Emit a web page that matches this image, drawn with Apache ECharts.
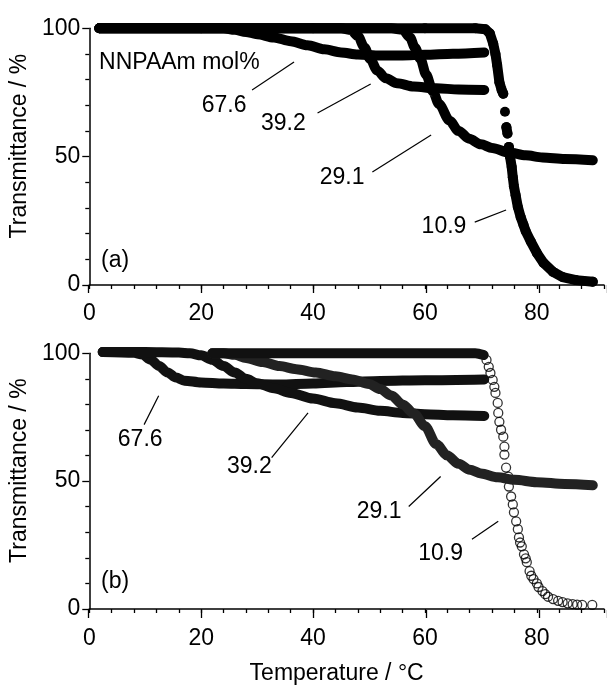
<!DOCTYPE html>
<html>
<head>
<meta charset="utf-8">
<title>Transmittance vs temperature</title>
<script src="https://cdn.jsdelivr.net/npm/echarts@6/dist/echarts.min.js"></script>
<style>
  html, body { margin: 0; padding: 0; background: #fff; }
  #chart { width: 607px; height: 686px; }
</style>
</head>
<body>
<div id="chart"></div>
<script>
// [temperature (°C), transmittance (%)]

// panel (a)
var a676 = [[1.8, 100], [20, 100], [24, 100], [26, 99.4], [28, 98.6], [30, 97.7], [33, 96.4], [36, 95], [39, 93.4],
  [42, 91.8], [45, 90.6], [48, 89.8], [52, 89.4], [56, 89.4], [60, 89.7], [65, 90.1], [70.6, 90.6]]
var a392 = [[1.8, 100], [20, 100], [40, 100], [45, 100], [46.8, 99.3], [48, 97], [49.2, 92.5], [50.2, 88], [51.5, 83.5],
  [53, 80.5], [55, 78.6], [58, 77.3], [62, 76.6], [66, 76.2], [70.6, 76]]
var a291 = [[1.8, 100], [20, 100], [40, 100], [54, 100], [56, 99.5], [57.3, 96.5], [58.2, 92.5], [59.2, 88], [60.2, 82],
  [61.4, 75.5], [62.5, 70.5], [64.4, 64], [66, 60], [67.9, 57], [70, 54.8], [72, 53.4], [75, 51.6], [78, 50.5],
  [81, 49.7], [85, 49.1], [90, 48.6]]
// '-' = gap between separate dots
var a109 = [[1.8, 100], [20, 100], [40, 100], [60, 100], [69, 100], [70.8, 99.6], [71.6, 98], [72.2, 94], [72.6, 90],
  [72.9, 85.7], [73.3, 79], [73.7, 76], [74, 74.5], '-', [74.3, 67.5], '-', [74.55, 61.5], [74.75, 59], '-',
  [75, 53.8], [75.2, 50], [75.5, 46], [75.7, 42], [75.9, 38.5], [76.2, 35], [76.6, 30.4], [77.1, 26.5],
  [77.6, 23.5], [78, 21], [78.9, 17], [80, 12.5], [81.2, 8.6], [82.9, 5.1], [84.6, 3.1], [87, 1.9], [90, 1.3]]

// panel (b)
var b676 = [[2.4, 100.5], [8, 100.2], [9.5, 99.5], [11, 97.5], [12.5, 95], [14, 92.5], [15.5, 90.5], [17, 89.3],
  [20, 88.6], [24, 88.2], [28, 88], [34, 87.8], [40, 88.2], [46, 88.8], [52, 89.2], [60, 89.5], [70.6, 89.8]]
var b392 = [[2.4, 100.5], [10, 100.5], [16, 100.3], [18, 100], [20, 99.2], [22, 97.5], [24, 95], [26, 92.5], [28, 90],
  [30, 88.3], [33, 86.3], [36, 84.5], [40, 82.3], [44, 80.5], [48, 78.8], [52, 77.5], [56, 76.7], [60, 76.2],
  [65, 75.8], [70.6, 75.5]]
var b291 = [[22, 100], [24, 100], [26, 99.4], [28, 98.2], [31, 96.6], [34, 95], [37, 93.8], [40.5, 92.5], [44, 91],
  [47, 89.8], [50, 88], [52, 86], [54, 83.5], [56, 80], [58, 76.5], [60, 71.5], [62, 64.5], [64, 60], [66, 56.8],
  [68, 54.5], [70, 53], [73, 51.5], [76, 50.5], [80, 49.6], [85, 48.9], [90, 48.4]]
var b109Flat = [[22, 100], [40, 100], [60, 100], [69, 100], [70.5, 99.3]]
var b109Drop = [[71, 97.4], [71.4, 94.7], [71.7, 92.3], [72.1, 89.6], [72.4, 86.9], [72.6, 84.5], [73, 80.6],
  [73.1, 76.7], [73.3, 73.2], [73.6, 70.1], [74, 67.4], [74.2, 63.5], [74.2, 60.4], [74.5, 55.3], [74.9, 51.8],
  [75, 47.9], [75.4, 44], [75.7, 40.9], [75.9, 37.8], [76.3, 34.3], [76.6, 31.2], [76.8, 28], [77, 26],
  [77.3, 24.5], [77.7, 21.4], [78, 19.8], [78.2, 18.3], [78.7, 14.8], [79, 13], [79.4, 11.7], [80, 10],
  [80.3, 8.6], [81, 7], [81.5, 5.8], [82, 4.8], [82.9, 3.9], [83.8, 3.2], [84.6, 2.7], [85.5, 2.2], [86.4, 1.9],
  [87.2, 1.7], [88.1, 1.6], [89.9, 1.6]]

var xLabels = [0, 20, 40, 60, 80]
var yLabels = [0, 50, 100]

// annotations, in data coordinates: label centre + leader line
var notesA = [
  {text: '67.6', at: [24.1, 69.7], line: [[29.1, 76], [36.6, 86.9]]},
  {text: '39.2', at: [34.7, 62.7], line: [[40.8, 67], [50.3, 78.3]]},
  {text: '29.1', at: [45.2, 41.7], line: [[50.6, 44], [61.1, 58.4]]},
  {text: '10.9', at: [63.4, 22.6], line: [[68.9, 24.5], [74.5, 29.2]]}
]
var notesB = [
  {text: '67.6', at: [9.1, 66.2], line: [[9.8, 72.1], [12.4, 83.4]]},
  {text: '39.2', at: [28.6, 55.7], line: [[32.6, 59.2], [39.1, 76.7]]},
  {text: '29.1', at: [51.8, 38.2], line: [[57.1, 40.1], [62.8, 51.8]]},
  {text: '10.9', at: [62.8, 21.8], line: [[68.4, 27.3], [73.1, 34.3]]}
]

var FONT = 'Liberation Sans, Arial, Helvetica, sans-serif'
var chart = echarts.init(document.getElementById('chart'))

var gridA = {left: 88, top: 28.3, width: 527, height: 256.7}
var gridB = {left: 88, top: 353.3, width: 527, height: 256.7}

function mainX (grid, margin, extra) {
  return Object.assign({
    type: 'value', gridIndex: grid, min: 0, max: 92, interval: 4,
    axisLine: {onZero: false, lineStyle: {color: '#000', width: 1.5}},
    axisTick: {length: 4, lineStyle: {color: '#000', width: 1.3}},
    axisLabel: {
      margin: margin, color: '#000', fontSize: 23, fontFamily: FONT,
      formatter: function (v) { return xLabels.indexOf(v) >= 0 ? String(v) : '' }
    },
    splitLine: {show: false}
  }, extra || {})
}
function majorX (grid) {
  return {
    type: 'value', gridIndex: grid, min: 0, max: 92, interval: 20,
    axisLine: {show: false},
    axisTick: {length: 8, lineStyle: {color: '#000', width: 1.3}},
    axisLabel: {show: false},
    splitLine: {show: false}
  }
}
function mainY (grid) {
  return {
    type: 'value', gridIndex: grid, min: 0, max: 100, interval: 50,
    name: 'Transmittance / %', nameLocation: 'middle', nameGap: 52, nameRotate: 90,
    nameTextStyle: {color: '#000', fontSize: 23, fontFamily: FONT, padding: [0, 0, 0, 21]},
    axisLine: {lineStyle: {color: '#000', width: 1.5}},
    axisTick: {length: 7, lineStyle: {color: '#000', width: 1.3}},
    minorTick: {show: true, splitNumber: 5, length: 4, lineStyle: {color: '#000', width: 1.3}},
    axisLabel: {
      margin: 9, color: '#000', fontSize: 23, fontFamily: FONT,
      formatter: function (v) { return yLabels.indexOf(v) >= 0 ? String(v) : '' }
    },
    splitLine: {show: false}
  }
}
function hiddenY (grid) {
  return {type: 'value', gridIndex: grid, min: 0, max: 100, show: false}
}

function band (data, xi, color) {
  return {
    type: 'line', data: data, xAxisIndex: xi, yAxisIndex: xi,
    showSymbol: false, smooth: 0.3, smoothMonotone: 'x', clip: false,
    lineStyle: {color: color, width: 10, cap: 'round', join: 'round'},
    silent: true
  }
}

var series = [
  band(a676, 0, '#000'),
  band(a392, 0, '#000'),
  band(a291, 0, '#000'),
  {
    type: 'line', data: a109, xAxisIndex: 0, yAxisIndex: 0, clip: false,
    symbol: 'circle', symbolSize: 10, showSymbol: true, showAllSymbol: true,
    connectNulls: false, itemStyle: {color: '#000'},
    lineStyle: {color: '#000', width: 10, cap: 'round', join: 'round'}, silent: true
  },
  band(b676, 1, '#111'),
  band(b392, 1, '#111'),
  band(b291, 1, '#222'),
  band(b109Flat, 1, '#111'),
  {
    type: 'scatter', data: b109Drop, xAxisIndex: 1, yAxisIndex: 1, clip: false,
    symbol: 'circle', symbolSize: 9,
    itemStyle: {color: 'rgba(0,0,0,0)', borderColor: '#000', borderWidth: 1.3}, silent: true
  }
]

chart.setOption({
  animation: false,
  backgroundColor: '#fff',
  grid: [gridA, gridB, Object.assign({}, gridA), Object.assign({}, gridB)],
  xAxis: [
    mainX(0, 17),
    mainX(1, 18, {
      name: 'Temperature / °C', nameLocation: 'middle', nameGap: 53,
      nameTextStyle: {color: '#000', fontSize: 23, fontFamily: FONT, padding: [0, 20, 0, 0]}
    }),
    majorX(2),
    majorX(3)
  ],
  yAxis: [mainY(0), mainY(1), hiddenY(2), hiddenY(3)],
  series: series
})

// labels and leader lines
function toPx (grid, p) {
  return chart.convertToPixel({gridIndex: grid}, p)
}
function textEl (grid, str, p, align) {
  var q = toPx(grid, p)
  return {
    type: 'text', x: q[0], y: q[1], silent: true,
    style: {text: str, fill: '#000', font: '23px ' + FONT, textAlign: align || 'center', textVerticalAlign: 'middle'}
  }
}
function lineEl (grid, pts) {
  var p1 = toPx(grid, pts[0])
  var p2 = toPx(grid, pts[1])
  return {
    type: 'line', silent: true,
    shape: {x1: p1[0], y1: p1[1], x2: p2[0], y2: p2[1]},
    style: {stroke: '#000', lineWidth: 1.2}
  }
}

var graphics = []
notesA.forEach(function (n) {
  graphics.push(textEl(0, n.text, n.at))
  graphics.push(lineEl(0, n.line))
})
notesB.forEach(function (n) {
  graphics.push(textEl(1, n.text, n.at))
  graphics.push(lineEl(1, n.line))
})
graphics.push(textEl(0, 'NNPAAm mol%', [1.75, 86.7], 'left'))
graphics.push(textEl(0, '(a)', [2.1, 9.35], 'left'))
graphics.push(textEl(1, '(b)', [2.1, 10.5], 'left'))

chart.setOption({graphic: graphics})
</script>
</body>
</html>
